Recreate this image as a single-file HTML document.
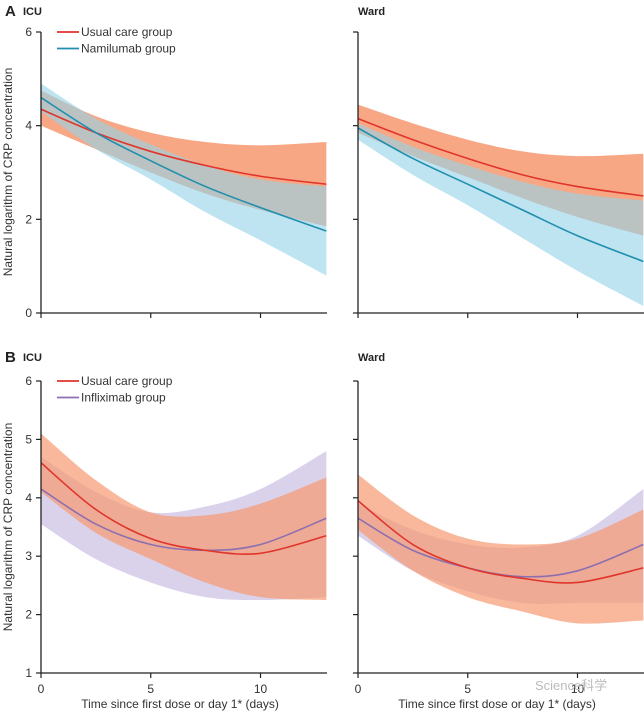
<!DOCTYPE html>
<html><head><meta charset="utf-8"><style>
html,body{margin:0;padding:0;background:#fff}
svg{display:block;font-family:"Liberation Sans Narrow","Liberation Sans",sans-serif}
</style></head><body>
<svg id="c" width="644" height="715" viewBox="0 0 644 715"></svg>
<script>
const days=[0,2.5,5,7.5,10,13];
// Panel A ICU
const aIcuUsual=[4.35,3.85,3.45,3.15,2.92,2.75], aIcuUsualLo=[4.0,3.5,3.0,2.55,2.2,1.85], aIcuUsualHi=[4.75,4.2,3.85,3.65,3.58,3.65];
const aIcuNam=[4.6,3.85,3.25,2.7,2.25,1.75], aIcuNamLo=[4.3,3.5,2.85,2.15,1.55,0.8], aIcuNamHi=[4.9,4.15,3.6,3.15,2.85,2.7];
// Panel A Ward
const aWardUsual=[4.15,3.7,3.3,2.95,2.7,2.5], aWardUsualLo=[3.85,3.35,2.9,2.45,2.05,1.65], aWardUsualHi=[4.45,4.05,3.7,3.45,3.35,3.4];
const aWardNam=[3.95,3.3,2.75,2.2,1.65,1.1], aWardNamLo=[3.7,2.95,2.3,1.6,0.9,0.15], aWardNamHi=[4.05,3.55,3.15,2.8,2.55,2.4];
// Panel B ICU
const bIcuUsual=[4.6,3.8,3.3,3.1,3.05,3.35], bIcuUsualLo=[4.1,3.4,2.95,2.55,2.3,2.25], bIcuUsualHi=[5.1,4.3,3.75,3.7,3.9,4.35];
const bIcuInf=[4.15,3.55,3.2,3.1,3.2,3.65], bIcuInfLo=[3.55,2.95,2.55,2.3,2.25,2.3], bIcuInfHi=[4.7,4.1,3.75,3.85,4.15,4.8];
// Panel B Ward
const bWardUsual=[3.95,3.2,2.8,2.62,2.55,2.8], bWardUsualLo=[3.45,2.75,2.3,2.05,1.85,1.9], bWardUsualHi=[4.4,3.7,3.3,3.2,3.3,3.8];
const bWardInf=[3.65,3.1,2.8,2.65,2.75,3.2], bWardInfLo=[3.35,2.75,2.4,2.2,2.2,2.2], bWardInfHi=[3.9,3.45,3.2,3.15,3.35,4.15];
const xTicks=[0,5,10];
const yTicksA=[0,2,4,6], yTicksB=[1,2,3,4,5,6];

const NS="http://www.w3.org/2000/svg", svg=document.getElementById('c');
function el(t,a,p){const e=document.createElementNS(NS,t);for(const k in a)e.setAttribute(k,a[k]);(p||svg).appendChild(e);return e;}
function smooth(pts){let d="M"+pts[0][0]+","+pts[0][1];
 for(let i=0;i<pts.length-1;i++){const p0=pts[i-1]||pts[i],p1=pts[i],p2=pts[i+1],p3=pts[i+2]||p2;
  d+=" C"+(p1[0]+(p2[0]-p0[0])/6)+","+(p1[1]+(p2[1]-p0[1])/6)+" "+(p2[0]-(p3[0]-p1[0])/6)+","+(p2[1]-(p3[1]-p1[1])/6)+" "+p2[0]+","+p2[1];}
 return d;}
function panel(x0,yTop,yBot,ymin,ymax,yt,showLab,series,legend,nm){
 const xs=d=>x0+d*21.95, ys=v=>yBot-(v-ymin)/(ymax-ymin)*(yBot-yTop);
 const g=el('g',{});
 
 
 series.forEach(s=>{
  const up=days.map((d,i)=>[xs(d),ys(s.hi[i])]), lo=days.map((d,i)=>[xs(d),ys(s.lo[i])]).reverse();
  const pb=smooth(up)+" L"+smooth(lo).slice(1)+" Z";
  const b=el('path',{d:pb,fill:s.band,'fill-opacity':s.op},g);
  
  
 });
 series.forEach(s=>{
  const l=el('path',{d:smooth(days.map((d,i)=>[xs(d),ys(s.m[i])])),fill:'none',stroke:s.line,'stroke-width':1.6},g);
  
  
 });
 const ax=el('path',{d:`M${x0},${yTop} V${yBot} H${x0+286}`,fill:'none',stroke:'#222','stroke-width':1.3},g);
 
 
 yt.forEach(v=>{el('line',{x1:x0-5,x2:x0,y1:ys(v),y2:ys(v),stroke:'#222','stroke-width':1.2},g);
  if(showLab.y){const t=el('text',{x:x0-9,y:ys(v)+4,'text-anchor':'end','font-size':12,fill:'#333'},g);t.textContent=v;
   
   }});
 xTicks.forEach(v=>{el('line',{x1:xs(v),x2:xs(v),y1:yBot,y2:yBot+5,stroke:'#222','stroke-width':1.2},g);
  if(showLab.x){const t=el('text',{x:xs(v),y:yBot+20,'text-anchor':'middle','font-size':12,fill:'#333'},g);t.textContent=v;
   
   }});
 if(legend){legend.forEach((L,i)=>{const y=yTop+i*16.5;
  el('line',{x1:x0+16,x2:x0+38,y1:y,y2:y,stroke:L.c,'stroke-width':1.8},g);
  const t=el('text',{x:x0+40,y:y+4,'font-size':12,fill:'#333'},g);t.textContent=L.t;
  
  });}
}
const OR='rgb(247,152,112)', BL='rgb(150,212,232)', PU='rgb(205,195,228)';
const RED='#e0352b', TEAL='#1f8fae', PUR='#8d6fb0';
panel(41,32,313,0,6,yTicksA,{y:1,x:0},[
 {name:'usual-care',m:aIcuUsual,lo:aIcuUsualLo,hi:aIcuUsualHi,band:OR,op:0.85,line:RED},
 {name:'namilumab',m:aIcuNam,lo:aIcuNamLo,hi:aIcuNamHi,band:BL,op:0.62,line:TEAL}],
 [{c:RED,t:'Usual care group'},{c:TEAL,t:'Namilumab group'}],'panel-a-icu');
panel(358,32,313,0,6,yTicksA,{y:0,x:0},[
 {name:'usual-care',m:aWardUsual,lo:aWardUsualLo,hi:aWardUsualHi,band:OR,op:0.85,line:RED},
 {name:'namilumab',m:aWardNam,lo:aWardNamLo,hi:aWardNamHi,band:BL,op:0.62,line:TEAL}],null,'panel-a-ward');
panel(41,381,673,1,6,yTicksB,{y:1,x:1},[
 {name:'infliximab',m:bIcuInf,lo:bIcuInfLo,hi:bIcuInfHi,band:PU,op:0.75,line:PUR},
 {name:'usual-care',m:bIcuUsual,lo:bIcuUsualLo,hi:bIcuUsualHi,band:OR,op:0.7,line:RED}],
 [{c:RED,t:'Usual care group'},{c:PUR,t:'Infliximab group'}],'panel-b-icu');
panel(358,381,673,1,6,yTicksB,{y:0,x:1},[
 {name:'infliximab',m:bWardInf,lo:bWardInfLo,hi:bWardInfHi,band:PU,op:0.75,line:PUR},
 {name:'usual-care',m:bWardUsual,lo:bWardUsualLo,hi:bWardUsualHi,band:OR,op:0.7,line:RED}],null,'panel-b-ward');
// re-draw lines on top in B so purple visible over orange
function txt(x,y,s,a,n){const t=el('text',Object.assign({x:x,y:y,fill:'#222'},a));t.textContent=s;
 
 return t;}
txt(5,16,'A',{'font-size':15,'font-weight':'bold'},'panel-a-label');
txt(23,15,'ICU',{'font-size':11,'font-weight':'bold'},'panel-title-icu');
txt(358,15,'Ward',{'font-size':11,'font-weight':'bold'},'panel-title-ward');
txt(5,362,'B',{'font-size':15,'font-weight':'bold'},'panel-b-label');
txt(23,361,'ICU',{'font-size':11,'font-weight':'bold'},'panel-title-icu-b');
txt(358,361,'Ward',{'font-size':11,'font-weight':'bold'},'panel-title-ward-b');
txt(12,172,'Natural logarithm of CRP concentration',{'font-size':12,'text-anchor':'middle',transform:'rotate(-90 12 172)',fill:'#333'},'y-axis-title-a');
txt(12,527,'Natural logarithm of CRP concentration',{'font-size':12,'text-anchor':'middle',transform:'rotate(-90 12 527)',fill:'#333'},'y-axis-title-b');
txt(180,708,'Time since first dose or day 1* (days)',{'font-size':12,'text-anchor':'middle',fill:'#333'},'x-axis-title-icu');
txt(497,708,'Time since first dose or day 1* (days)',{'font-size':12,'text-anchor':'middle',fill:'#333'},'x-axis-title-ward');
txt(535,690,'Science科学',{'font-size':13,fill:'#bbb','font-family':'"Liberation Sans","Noto Sans CJK SC",sans-serif'},'watermark');
</script>
</body></html>
